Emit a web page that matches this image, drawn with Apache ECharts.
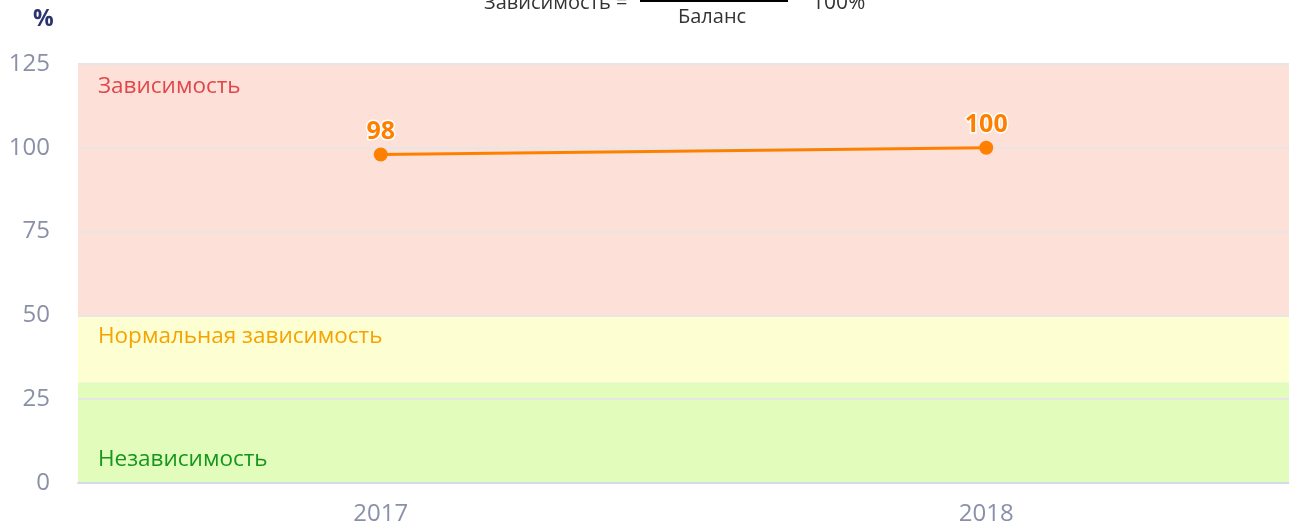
<!DOCTYPE html>
<html><head><meta charset="utf-8">
<script src="https://cdn.jsdelivr.net/npm/echarts@6/dist/echarts.min.js"></script>
<style>html,body{margin:0;padding:0;background:#fff}#c{width:1289px;height:530px}</style>
</head><body><div id="c"></div>
<script>
const categories = ['2017', '2018'];
const values = [98, 100];
const yTicks = [0, 25, 50, 75, 100, 125];
const bands = [
  { name: 'Зависимость', from: 50, to: 125 },
  { name: 'Нормальная зависимость', from: 30, to: 50 },
  { name: 'Независимость', from: 0, to: 30 }
];
const bandColors = ['#fde0d8', '#fefed3', '#e2fdbb'];
const bandTextColors = ['#e0474c', '#f5a300', '#16961e'];
const bandLabelPos = [[20, 11], [20, 10], [20, 66]];
const FONT = '"Open Sans", "Noto Sans", sans-serif';

const chart = echarts.init(document.getElementById('c'));
chart.setOption({
  animation: false,
  textStyle: { fontFamily: FONT },
  grid: { left: 78, right: -1, top: 64, bottom: 47, containLabel: false },
  xAxis: {
    type: 'category', data: categories, boundaryGap: true, z: 2,
    axisLine: { lineStyle: { color: '#d3dbea', width: 2 } },
    axisTick: { show: false },
    axisLabel: { color: '#8a90a8', fontSize: 24, margin: 19, fontFamily: FONT }
  },
  yAxis: {
    type: 'value', min: 0, max: 125, interval: 25, z: 2,
    axisLine: { show: false }, axisTick: { show: false },
    axisLabel: { color: '#8a90a8', fontSize: 24, margin: 28, fontFamily: FONT },
    splitLine: { lineStyle: { color: '#e6e6e6', width: 2 } }
  },
  graphic: [
    { type: 'text', left: 33, top: 8, style: { text: '%', fill: '#2a3570', font: 'bold 23px ' + FONT } },
    { type: 'text', left: 484, top: -7, style: { text: 'Зависимость =', fill: '#333', font: '20px ' + FONT } },
    { type: 'rect', shape: { x: 640, y: -2, width: 148, height: 4 }, style: { fill: '#000' } },
    { type: 'text', left: 678, top: 7, style: { text: 'Баланс', fill: '#333', font: '20px ' + FONT } },
    { type: 'text', left: 812, top: -7, style: { text: '100%', fill: '#333', font: '21px ' + FONT } }
  ],
  series: [
    {
      type: 'line', data: [], z: 1, silent: true,
      markArea: {
        silent: true,
        data: bands.map((b, i) => [
          { yAxis: b.to, itemStyle: { color: bandColors[i] },
            label: { show: true, position: bandLabelPos[i], formatter: b.name, color: bandTextColors[i],
                     fontSize: 22.5, fontFamily: FONT } },
          { yAxis: b.from }
        ])
      }
    },
    {
      type: 'line', data: values, z: 5,
      lineStyle: { color: '#ff8000', width: 3 },
      itemStyle: { color: '#ff8000' },
      symbol: 'circle', symbolSize: 14,
      label: {
        show: true, position: 'top', distance: 3, color: '#ff8000',
        fontSize: 25, fontWeight: 'bold', fontFamily: FONT,
        textBorderColor: '#fff', textBorderWidth: 3
      }
    }
  ]
});
</script></body></html>
